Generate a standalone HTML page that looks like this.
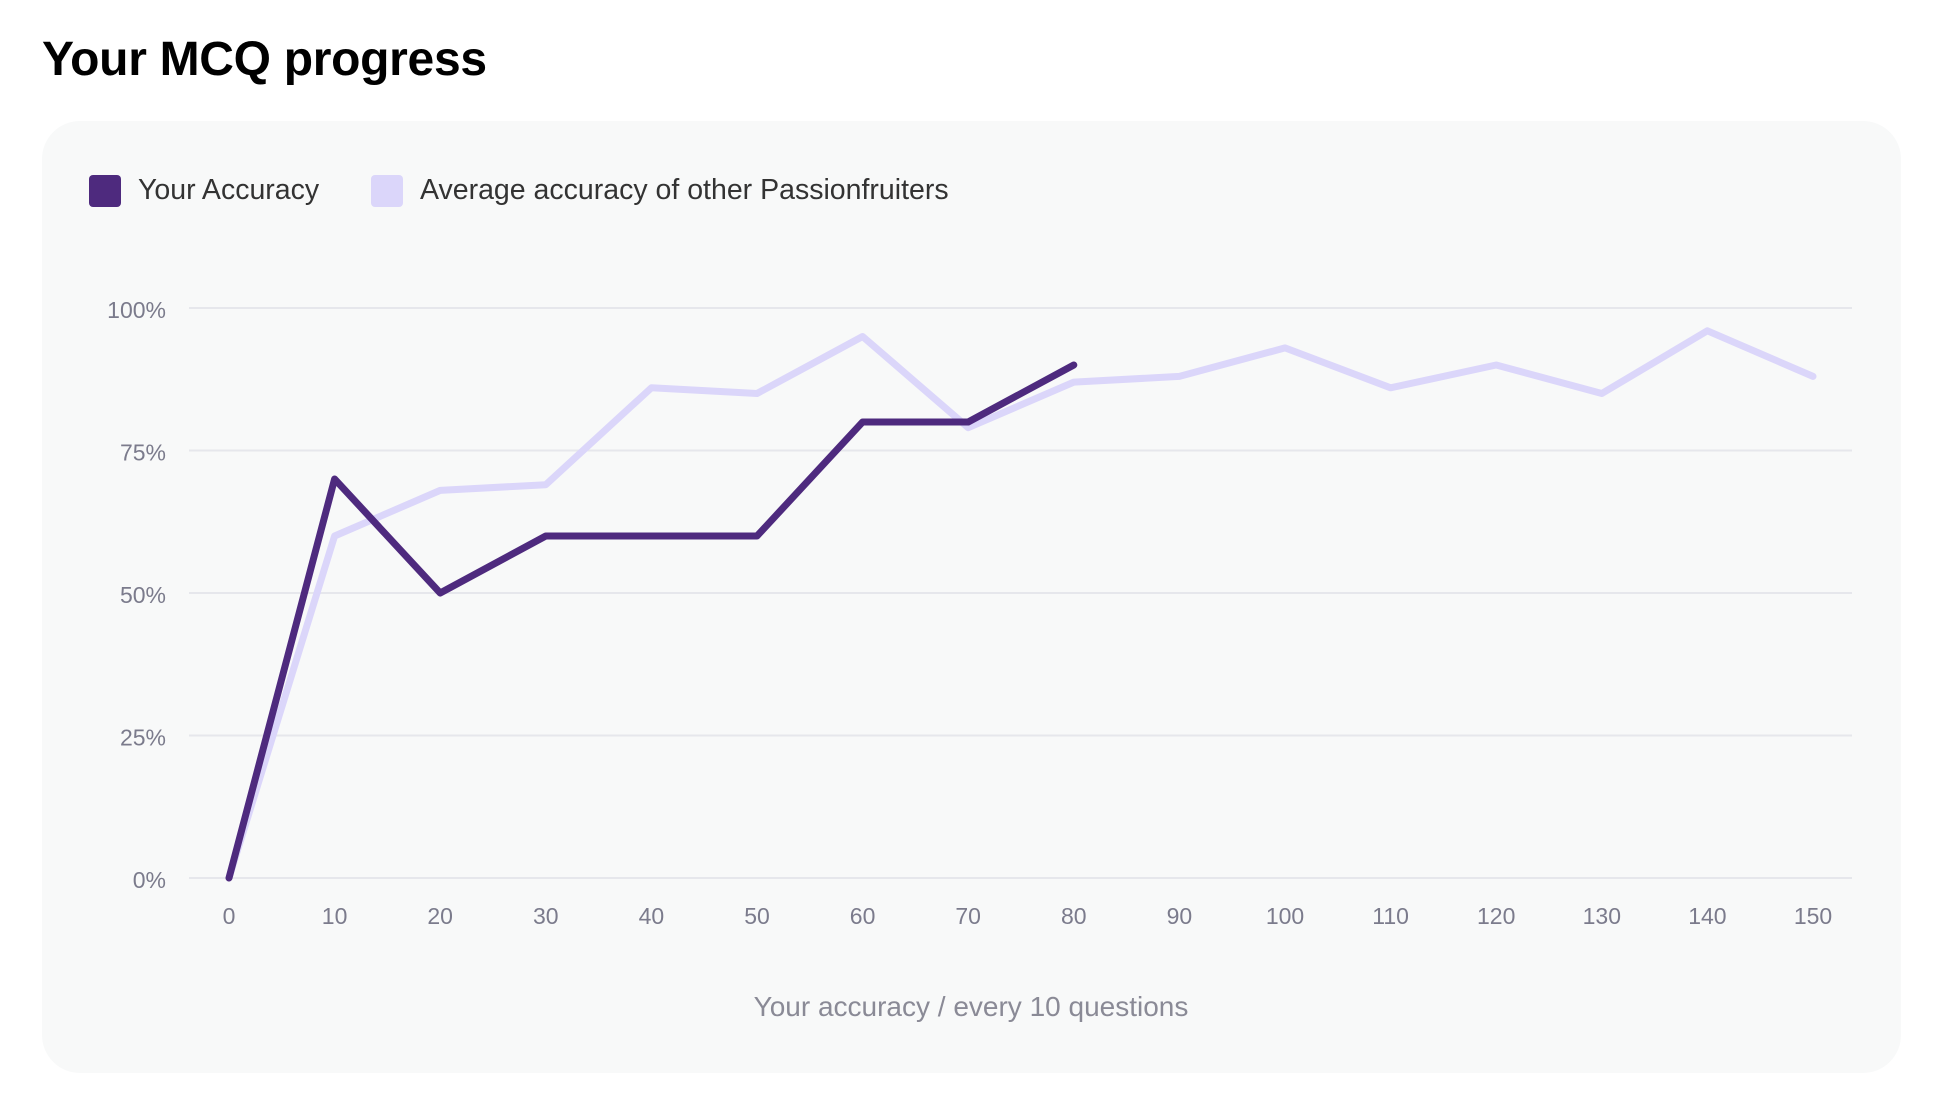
<!DOCTYPE html>
<html><head><meta charset="utf-8"><style>
body{margin:0;width:1938px;height:1102px;background:#fff;font-family:"Liberation Sans",sans-serif;position:relative;overflow:hidden}
h1{position:absolute;left:42px;top:32px;margin:0;font-size:48px;font-weight:bold;color:#000;letter-spacing:-0.3px}
#card{position:absolute;left:42px;top:121px;width:1859px;height:952px;background:#f8f9f9;border-radius:38px}
.leg{position:absolute;top:174px;display:flex;align-items:center;font-size:28.5px;color:#333}
.sw{width:32px;height:32px;border-radius:4px;margin-right:17px}
svg{position:absolute;left:0;top:0}
</style></head><body>
<h1>Your MCQ progress</h1>
<div id="card"></div>
<div class="leg" style="left:89px"><div class="sw" style="background:#4e2a7e"></div>Your Accuracy</div>
<div class="leg" style="left:371px"><div class="sw" style="background:#dbd6fa"></div>Average accuracy of other Passionfruiters</div>
<svg id="chart" width="1938" height="1102"></svg>
<script>
const categories=[0,10,20,30,40,50,60,70,80,90,100,110,120,130,140,150];
const yourAccuracy=[0,70,50,60,60,60,80,80,90];
const averageAccuracy=[0,60,68,69,86,85,95,79,87,88,93,86,90,85,96,88];
const yTicks=[0,25,50,75,100];
const NS="http://www.w3.org/2000/svg";
const svg=document.getElementById('chart');
const x0=229,x1=1813,y0=878,y1=308;
const xs=v=>x0+(v-categories[0])/(categories[categories.length-1]-categories[0])*(x1-x0);
const ys=v=>y0-(v/100)*(y0-y1);
function mk(t,a){const e=document.createElementNS(NS,t);for(const k in a)e.setAttribute(k,a[k]);svg.appendChild(e);return e;}
yTicks.forEach(t=>{
  const g=mk('line',{x1:189,x2:1852,y1:ys(t),y2:ys(t),stroke:'#e6e7ec','stroke-width':2});
  
  
  const l=mk('text',{x:166,y:ys(t)+10,'text-anchor':'end','font-size':23,fill:'#7b7b8c','font-family':'Liberation Sans, sans-serif'});
  l.textContent=t+'%';
  
  
});
categories.forEach(c=>{
  const l=mk('text',{x:xs(c),y:924,'text-anchor':'middle','font-size':23,fill:'#7b7b8c','font-family':'Liberation Sans, sans-serif'});
  l.textContent=c;
  
  
});
const at=mk('text',{x:971,y:1016,'text-anchor':'middle','font-size':28,fill:'#8a8a96','font-family':'Liberation Sans, sans-serif'});
at.textContent='Your accuracy / every 10 questions';


function line(vals,color,w,name){
  const p=mk('polyline',{points:vals.map((v,i)=>xs(categories[i])+','+ys(v)).join(' '),fill:'none',stroke:color,'stroke-width':w,'stroke-linejoin':'round','stroke-linecap':'round'});
  
  
}
line(averageAccuracy,'#dbd6fa',7,'average-accuracy-line');
line(yourAccuracy,'#4e2a7e',7,'your-accuracy-line');
</script>
</body></html>
